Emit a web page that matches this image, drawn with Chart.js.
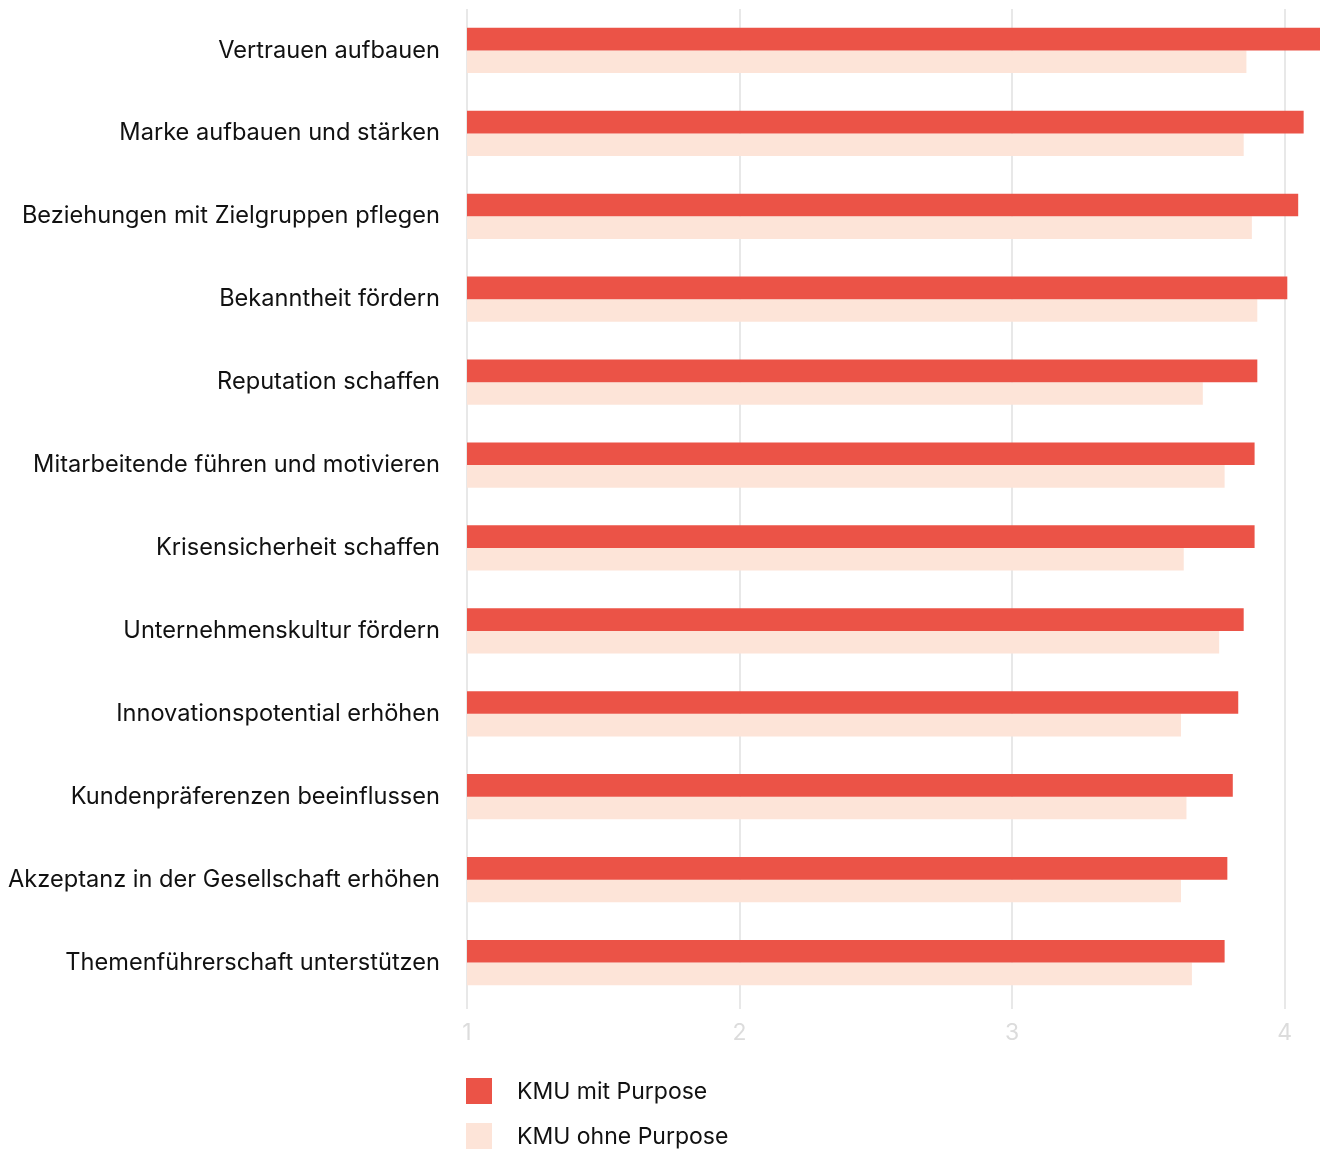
<!DOCTYPE html>
<html>
<head>
<meta charset="utf-8">
<script src="https://cdn.jsdelivr.net/npm/chart.js@4"></script>
<style>
  html, body { margin: 0; padding: 0; background: #ffffff; }
  #wrap { position: relative; width: 1322px; height: 1149px; overflow: hidden; }
  #legend { position: absolute; left: 466px; top: 1078px; font-family: Inter, "Noto Sans", sans-serif; font-size: 23px; color: #111; }
  .item { display: flex; align-items: center; height: 26px; margin-bottom: 19px; }
  .sw { width: 26px; height: 26px; margin-right: 25px; }
</style>
</head>
<body>
<div id="wrap">
  <canvas id="c"></canvas>
  <div id="legend"></div>
</div>
<script>
const categories = [
  "Vertrauen aufbauen",
  "Marke aufbauen und stärken",
  "Beziehungen mit Zielgruppen pflegen",
  "Bekanntheit fördern",
  "Reputation schaffen",
  "Mitarbeitende führen und motivieren",
  "Krisensicherheit schaffen",
  "Unternehmenskultur fördern",
  "Innovationspotential erhöhen",
  "Kundenpräferenzen beeinflussen",
  "Akzeptanz in der Gesellschaft erhöhen",
  "Themenführerschaft unterstützen"
];
const seriesNames = ["KMU mit Purpose", "KMU ohne Purpose"];
const withPurpose =    [4.13, 4.07, 4.05, 4.01, 3.90, 3.89, 3.89, 3.85, 3.83, 3.81, 3.79, 3.78];
const withoutPurpose = [3.86, 3.85, 3.88, 3.90, 3.70, 3.78, 3.63, 3.76, 3.62, 3.64, 3.62, 3.66];
const xTicks = [1, 2, 3, 4];
const colors = ["#eb5347", "#fde4d8"];

const FONT = 'Inter, "Noto Sans", sans-serif';

const chart = new Chart(document.getElementById('c'), {
  type: 'bar',
  data: {
    labels: categories,
    datasets: [
      { label: seriesNames[0], data: withPurpose, backgroundColor: colors[0], barPercentage: 1, categoryPercentage: 0.545 },
      { label: seriesNames[1], data: withoutPurpose, backgroundColor: colors[1], barPercentage: 1, categoryPercentage: 0.545 }
    ]
  },
  options: {
    indexAxis: 'y',
    responsive: true,
    maintainAspectRatio: false,
    animation: false,
    layout: { padding: { top: 9, right: 2, bottom: 95, left: 0 } },
    plugins: { legend: { display: false }, tooltip: { enabled: false } },
    scales: {
      x: {
        min: 1, max: 4.13,
        afterBuildTicks: (s) => { s.ticks = xTicks.map(v => ({ value: v })); },
        afterFit: (s) => { s.height = 50; s.paddingLeft = 0; s.paddingRight = 0; },
        grid: { color: '#e8e8e8', lineWidth: 2, drawTicks: true, tickLength: 5, tickColor: '#e8e8e8' },
        border: { display: false },
        ticks: { color: '#dcdcdc', font: { family: FONT, size: 23 }, padding: 10, maxRotation: 0 }
      },
      y: {
        afterFit: (s) => { s.width = 467; s.paddingTop = 0; s.paddingBottom = 0; },
        grid: { display: false, drawTicks: false },
        border: { display: false },
        ticks: { color: '#111111', font: { family: FONT, size: 23.6 }, padding: 27, crossAlign: 'near' }
      }
    }
  }
});

const leg = document.getElementById('legend');
seriesNames.forEach((n, i) => {
  const d = document.createElement('div'); d.className = 'item';
  const s = document.createElement('div'); s.className = 'sw'; s.style.background = colors[i];
  const t = document.createElement('span'); t.textContent = n;
  d.appendChild(s); d.appendChild(t); leg.appendChild(d);
});
</script>
</body>
</html>
